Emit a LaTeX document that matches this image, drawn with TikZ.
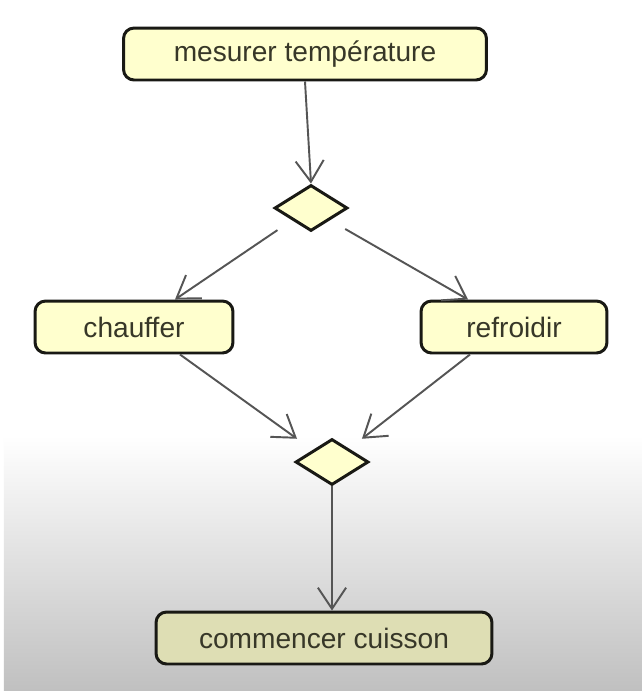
\documentclass[tikz,border=0pt]{standalone}
\usepackage{fontspec}
\setmainfont{Liberation Sans}
\usepackage{tikz}
\definecolor{actfill}{RGB}{255,255,206}
\definecolor{actfilldark}{RGB}{222,222,180}
\definecolor{actedge}{RGB}{25,25,20}
\definecolor{acttext}{RGB}{55,55,40}
\definecolor{flowgray}{RGB}{85,85,85}
\definecolor{bggray}{RGB}{192,192,192}
\usetikzlibrary{arrows.meta,positioning,shapes.geometric}

\begin{document}
\begin{tikzpicture}[x=0.02cm,y=-0.02cm,
  action/.style={draw=actedge,line width=1.7pt,rounded corners=6pt,fill=actfill,
    text=acttext,font=\fontsize{16}{19}\selectfont,minimum height=1.04cm},
  decision/.style={draw=actedge,line width=1.7pt,diamond,fill=actfill,inner sep=0pt,
    minimum width=1.46cm,minimum height=0.92cm},
  flow/.style={draw=flowgray,line width=1.1pt,-{Straight Barb[length=12pt,width=16pt]}}]
  % Background
  \fill[white] (0,0) rectangle (642,691);
  \shade[top color=white,bottom color=bggray] (4,435) rectangle (642,691);
  \useasboundingbox (0,0) rectangle (642,691);

  % Actions and decisions
  \node[action,minimum width=7.26cm] (mesure) at (305,54) {mesurer température};
  \node[decision] (choix) at (311,208) {};
  \node[action,minimum width=3.96cm] (chauffe) at (134,327) {chauffer};
  \node[action,minimum width=3.72cm] (refroid) at (514,327) {refroidir};
  \node[decision] (fusion) at (332,462) {};
  \node[action,fill=actfilldark,minimum width=6.72cm] (cuisson) at (324,638) {commencer cuisson};

  % Flows
  \draw[flow] (mesure.south) -- (choix.north);
  \draw[flow,shorten <=10pt] (choix.south west) -- ([xshift=0.82cm]chauffe.north);
  \draw[flow,shorten <=10pt] (choix.south east) -- ([xshift=-0.92cm]refroid.north);
  \draw[flow] ([xshift=0.92cm]chauffe.south) -- ([xshift=-0.32cm,yshift=0.22cm]fusion.north west);
  \draw[flow] ([xshift=-0.88cm]refroid.south) -- ([xshift=0.22cm,yshift=0.22cm]fusion.north east);
  \draw[flow] (fusion.south) -- (fusion.south |- cuisson.north);
\end{tikzpicture}
\end{document}
